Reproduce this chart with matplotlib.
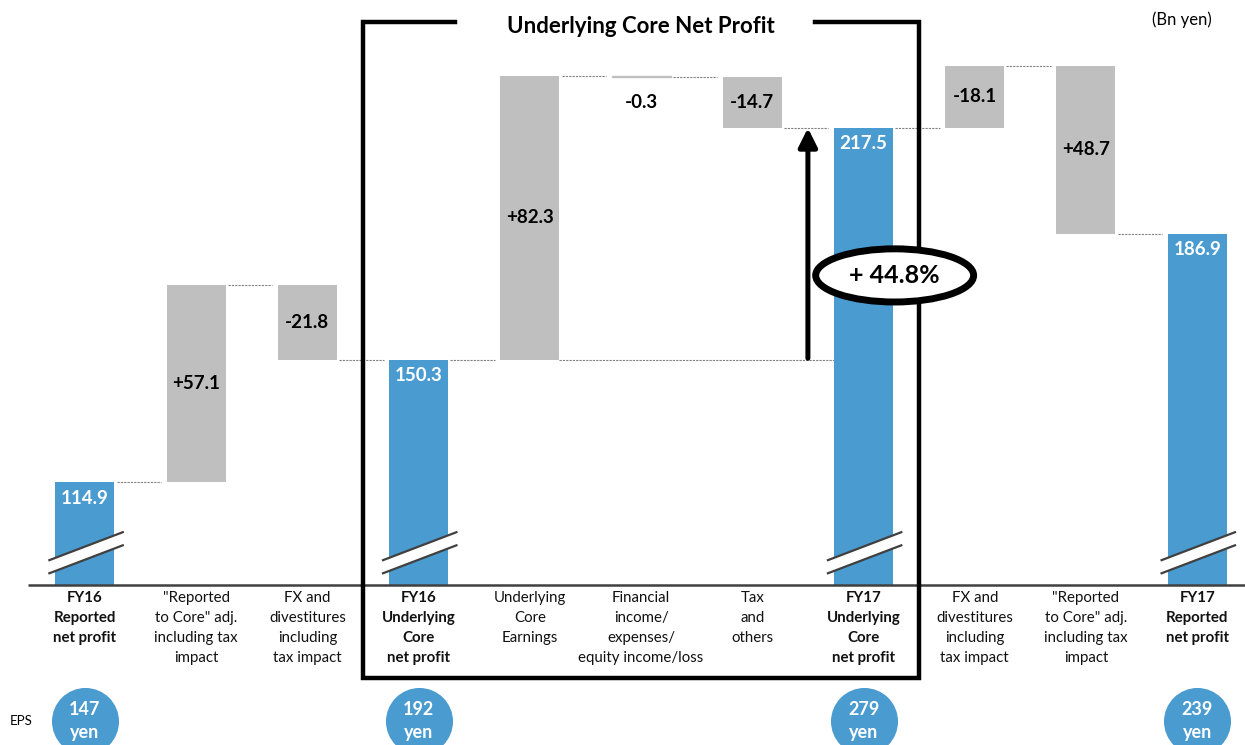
import matplotlib.pyplot as plt
import matplotlib.transforms as mtransforms
from matplotlib.patches import Ellipse, Polygon

plt.rcParams['font.family'] = ['Lato', 'DejaVu Sans']

# ---- data (Bn yen) ----
categories = [
    "FY16\nReported\nnet profit",
    '"Reported\nto Core" adj.\nincluding tax\nimpact',
    "FX and\ndivestitures\nincluding\ntax impact",
    "FY16\nUnderlying\nCore\nnet profit",
    "Underlying\nCore\nEarnings",
    "Financial\nincome/\nexpenses/\nequity income/loss",
    "Tax\nand\nothers",
    "FY17\nUnderlying\nCore\nnet profit",
    "FX and\ndivestitures\nincluding\ntax impact",
    '"Reported\nto Core" adj.\nincluding tax\nimpact',
    "FY17\nReported\nnet profit",
]
values = [114.9, 57.1, -21.8, 150.3, 82.3, -0.3, -14.7, 217.5, -18.1, 48.7, 186.9]
is_total = [True, False, False, True, False, False, False, True, False, False, True]
# right-hand bridge is drawn backwards (reported -> core)
reverse = [False] * 8 + [True, True, False]
eps = [147, None, None, 192, None, None, None, 279, None, None, 239]
growth_label = "+ 44.8%"
box_title = "Underlying Core Net Profit"

BLUE = "#4a9bd0"
GREY = "#bfbfbf"
DARK = "#404040"

fig = plt.figure(figsize=(12.45, 7.45), dpi=100)
ax = fig.add_axes([0, 160 / 745, 1, 585 / 745])
y0 = 85.1
ax.set_xlim(-0.764, 10.43)
ax.set_ylim(y0, 254.6)
ax.axis("off")
xa = mtransforms.blended_transform_factory(ax.transData, ax.transAxes)

w = 0.53
bottoms, tops = [], []
level = 0
for v, tot, rev in zip(values, is_total, reverse):
    if tot:
        bottoms.append(0)
        tops.append(v)
        level = v
    else:
        d = -v if rev else v
        bottoms.append(level)
        tops.append(level + d)
        level += d

for i, v in enumerate(values):
    b, t = bottoms[i], tops[i]
    if is_total[i]:
        ax.bar(i, t - b, bottom=b, width=w, color=BLUE, zorder=2)
        ax.text(i, t - 4.6, f"{v:.1f}", ha="center", va="center", color="white",
                fontsize=13.5, fontweight="bold", zorder=5)
    else:
        ax.bar(i, t - b, bottom=b, width=w, color=GREY, zorder=2,
               edgecolor=GREY if abs(v) < 1 else "none", linewidth=1)
        if abs(v) < 3:
            ax.text(i, min(b, t) - 7.3, f"{v:+.1f}", ha="center", va="center",
                    fontsize=13.5, fontweight="bold", color="black")
        else:
            ax.text(i, (b + t) / 2, f"{v:+.1f}", ha="center", va="center",
                    fontsize=13.5, fontweight="bold", color="black", zorder=5)
    # connector to next bar
    if i < len(values) - 1:
        ax.plot([i + w / 2 + 0.02, i + 1 - w / 2 - 0.05], [t, t], color="#808080",
                lw=0.8, ls=(0, (2, 1)), zorder=1)

# long reference line at FY16 core level
ax.plot([4 + w / 2, 7 - w / 2], [values[3], values[3]], color="#808080",
        lw=0.8, ls=(0, (2, 1)), zorder=1)

# break marks on total bars
for i in [k for k, t in enumerate(is_total) if t]:
    xs = [i - 0.32, i + 0.34]
    ax.add_patch(Polygon([(xs[0], 92.3), (xs[1], 100.4), (xs[1], 96.6), (xs[0], 88.5)],
                         closed=True, facecolor="white", edgecolor="none", zorder=3))
    ax.plot(xs, [92.3, 100.4], color=DARK, lw=1.6, zorder=4)
    ax.plot(xs, [88.5, 96.6], color=DARK, lw=1.6, zorder=4)

# baseline
ax.plot([-0.51, 10.43], [y0, y0], color=DARK, lw=1.8, clip_on=False, zorder=4,
        solid_capstyle="butt")

# category labels
for i, c in enumerate(categories):
    ax.text(i, -0.01, c, transform=xa, ha="center", va="top", fontsize=10.8,
            fontweight="bold" if is_total[i] else "normal", linespacing=1.55,
            color="#111111")

# EPS circles
for i, e in enumerate(eps):
    if e is None:
        continue
    ax.scatter([i], [-0.232], s=2330, color=BLUE, transform=xa, clip_on=False,
               zorder=3, linewidths=0)
    ax.text(i, -0.232, f"{e}\nyen", transform=xa, ha="center", va="center",
            color="white", fontsize=13, fontweight="bold", linespacing=1.45,
            zorder=4, clip_on=False)
fig.text(10 / 1245, 24 / 745, "EPS", ha="left", va="center", fontsize=9.5)
fig.text(1182 / 1245, 1 - 20 / 745, "(Bn yen)", ha="center", va="center",
         fontsize=12)

# underlying core box
bt, bb = 0.962, -0.159
ax.plot([3.33, 2.5, 2.5, 7.5, 7.5, 6.56], [bt, bt, bb, bb, bt, bt], color="black",
        lw=3.2, transform=xa, clip_on=False, solid_joinstyle="miter", zorder=6)
ax.text(5.0, 0.954, box_title, transform=xa, ha="center", va="center",
        fontsize=16, fontweight="bold")

# growth arrow and ellipse
ax.annotate("", xy=(6.5, values[7]), xytext=(6.5, values[3] + 0.5),
            arrowprops=dict(arrowstyle="-|>", lw=3.6, color="black",
                            mutation_scale=28, shrinkA=0, shrinkB=0), zorder=6)
ax.add_patch(Ellipse((7.28, 174.8), 1.42, 15.4, facecolor="white",
                     edgecolor="black", lw=5, zorder=7))
ax.text(7.28, 174.8, growth_label, ha="center", va="center", fontsize=18,
        fontweight="bold", zorder=8)

fig.savefig("out.png", dpi=100)
